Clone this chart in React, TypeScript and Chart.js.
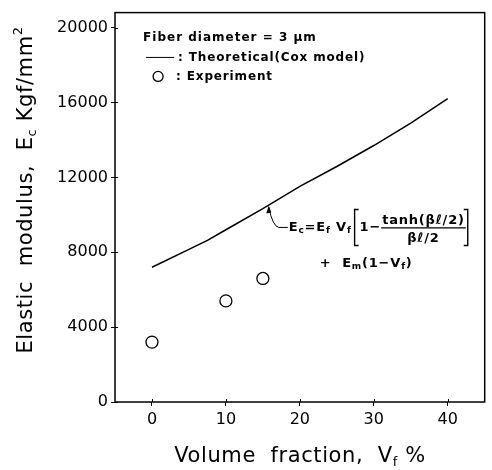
import React, { useEffect, useRef } from "react";
import { Chart, registerables } from "chart.js";

Chart.register(...registerables);

// Data
const theoryVf = [0, 5, 7.5, 10, 15, 20, 25, 30, 35, 40];
const theoryEc = [7200, 8150, 8630, 9200, 10330, 11520, 12580, 13700, 14900, 16200];
const expVf = [0, 10, 15];
const expEc = [3200, 5400, 6600];
const xTicks = [0, 10, 20, 30, 40];
const yTicks = [0, 4000, 8000, 12000, 16000, 20000];

const FONT = "'DejaVu Sans', sans-serif";

type Part = { t: string; size: number; weight?: string; dy?: number };

function richWidth(ctx: CanvasRenderingContext2D, parts: Part[]) {
  let w = 0;
  for (const p of parts) {
    ctx.font = `${p.weight || "normal"} ${p.size}px ${FONT}`;
    w += ctx.measureText(p.t).width;
  }
  return w;
}

function drawRich(ctx: CanvasRenderingContext2D, parts: Part[], x: number, y: number, align: "left" | "center" = "left") {
  let cx = align === "center" ? x - richWidth(ctx, parts) / 2 : x;
  ctx.textAlign = "left";
  ctx.textBaseline = "alphabetic";
  for (const p of parts) {
    ctx.font = `${p.weight || "normal"} ${p.size}px ${FONT}`;
    ctx.fillText(p.t, cx, y + (p.dy || 0));
    cx += ctx.measureText(p.t).width;
  }
  return cx;
}

const decorPlugin = {
  id: "decor",
  afterDraw(chart: any) {
    const ctx: CanvasRenderingContext2D = chart.ctx;
    const { left, right, top, bottom } = chart.chartArea;
    const xs = chart.scales.x;
    const ys = chart.scales.y;
    ctx.save();
    ctx.fillStyle = "#000";
    ctx.strokeStyle = "#000";

    // frame
    ctx.lineWidth = 1.5;
    ctx.strokeRect(left, top, right - left, bottom - top);

    // inner ticks
    ctx.lineWidth = 1;
    ctx.beginPath();
    for (const v of xTicks) {
      const px = Math.round(xs.getPixelForValue(v)) + 0.5;
      ctx.moveTo(px, bottom);
      ctx.lineTo(px, bottom - 3);
    }
    for (const v of yTicks) {
      const py = Math.round(ys.getPixelForValue(v)) + 0.5;
      ctx.moveTo(left, py);
      ctx.lineTo(left + 3, py);
    }
    ctx.stroke();

    // x axis title
    (ctx as any).letterSpacing = "0.6px";
    const xt: Part[] = [
      { t: "Volume  fraction,  V", size: 21 },
      { t: "f", size: 13, dy: 4 },
      { t: " %", size: 21 },
    ];
    drawRich(ctx, xt, 300, 462, "center");

    // y axis title (rotated)
    ctx.save();
    ctx.translate(32, 190);
    ctx.rotate(-Math.PI / 2);
    const yt: Part[] = [
      { t: "Elastic  modulus,  E", size: 21 },
      { t: "c", size: 13, dy: 4 },
      { t: " Kgf/mm", size: 21 },
      { t: "2", size: 13, dy: -10 },
    ];
    drawRich(ctx, yt, 0, 0, "center");
    ctx.restore();

    // legend block
    (ctx as any).letterSpacing = "0.85px";
    const lx = xs.getPixelForValue(-1.2);
    const ly = ys.getPixelForValue(19100) - 3;
    ctx.font = `bold 12px ${FONT}`;
    (ctx as any).letterSpacing = "1px";
    ctx.fillText("Fiber diameter = 3 \u03BCm", lx, ly);
    (ctx as any).letterSpacing = "0.85px";
    ctx.beginPath();
    ctx.lineWidth = 1;
    ctx.moveTo(lx + 3, ly + 16);
    ctx.lineTo(lx + 31, ly + 16);
    ctx.stroke();
    ctx.fillText(": Theoretical(Cox model)", lx + 35, ly + 20);
    ctx.beginPath();
    ctx.lineWidth = 1.3;
    ctx.arc(lx + 15, ly + 35, 5, 0, Math.PI * 2);
    ctx.stroke();
    ctx.fillText(": Experiment", lx + 33, ly + 39);

    // formula annotation with arrow
    (ctx as any).letterSpacing = "0.8px";
    const tipX = xs.getPixelForValue(15.8);
    const tipY = ys.getPixelForValue(10500);
    const ox = tipX + 20;
    const by = tipY + 26;
    ctx.lineWidth = 1;
    ctx.beginPath();
    ctx.moveTo(tipX, tipY + 2);
    ctx.quadraticCurveTo(tipX + 4, tipY + 21, tipX + 10, tipY + 22);
    ctx.lineTo(ox - 1, tipY + 22);
    ctx.stroke();
    ctx.beginPath();
    ctx.moveTo(tipX, tipY);
    ctx.lineTo(tipX - 2.5, tipY + 8);
    ctx.lineTo(tipX + 2.5, tipY + 7);
    ctx.closePath();
    ctx.fill();

    let cx = drawRich(ctx, [
      { t: "E", size: 13, weight: "bold" },
      { t: "c", size: 9, weight: "bold", dy: 2 },
      { t: "=E", size: 13, weight: "bold" },
      { t: "f", size: 9, weight: "bold", dy: 2 },
      { t: " V", size: 13, weight: "bold" },
      { t: "f", size: 9, weight: "bold", dy: 2 },
    ], ox, by);
    // left bracket
    cx += 3;
    ctx.lineWidth = 1.4;
    ctx.beginPath();
    ctx.moveTo(cx + 4, by - 22);
    ctx.lineTo(cx, by - 22);
    ctx.lineTo(cx, by + 14);
    ctx.lineTo(cx + 4, by + 14);
    ctx.stroke();
    cx += 5;
    cx = drawRich(ctx, [{ t: "1\u2212", size: 13, weight: "bold" }], cx, by);
    // fraction
    ctx.font = `bold 13px ${FONT}`;
    const num = "tanh(\u03B2\u2113/2)";
    const den = "\u03B2\u2113/2";
    const nw = ctx.measureText(num).width;
    const dw = ctx.measureText(den).width;
    const fx = cx + 1;
    ctx.fillText(num, fx, by - 7);
    ctx.fillText(den, fx + (nw - dw) / 2, by + 11);
    ctx.lineWidth = 1.2;
    ctx.beginPath();
    ctx.moveTo(fx - 1, by - 3.5);
    ctx.lineTo(fx + nw + 1, by - 3.5);
    ctx.stroke();
    // right bracket
    const rx = fx + nw + 3;
    ctx.lineWidth = 1.4;
    ctx.beginPath();
    ctx.moveTo(rx - 4, by - 22);
    ctx.lineTo(rx, by - 22);
    ctx.lineTo(rx, by + 14);
    ctx.lineTo(rx - 4, by + 14);
    ctx.stroke();

    drawRich(ctx, [
      { t: "+  E", size: 13, weight: "bold" },
      { t: "m", size: 9, weight: "bold", dy: 2 },
      { t: "(1\u2212V", size: 13, weight: "bold" },
      { t: "f", size: 9, weight: "bold", dy: 2 },
      { t: ")", size: 13, weight: "bold" },
    ], ox + 31, by + 36);

    (ctx as any).letterSpacing = "0px";
    ctx.restore();
  },
};

export default function App() {
  const ref = useRef<HTMLCanvasElement>(null);
  useEffect(() => {
    if (!ref.current) return;
    const chart = new Chart(ref.current, {
      type: "scatter",
      data: {
        datasets: [
          {
            label: "Theoretical(Cox model)",
            data: theoryVf.map((x, i) => ({ x, y: theoryEc[i] })),
            showLine: true,
            borderColor: "#000",
            borderWidth: 1.5,
            pointRadius: 0,
            tension: 0,
          },
          {
            label: "Experiment",
            data: expVf.map((x, i) => ({ x, y: expEc[i] })),
            showLine: false,
            pointStyle: "circle",
            pointRadius: 6,
            borderColor: "#000",
            borderWidth: 1.3,
            backgroundColor: "rgba(0,0,0,0)",
          },
        ],
      },
      options: {
        animation: false,
        responsive: false,
        layout: { padding: { top: 5, right: 1, left: 0, bottom: 0 } },
        plugins: { legend: { display: false }, tooltip: { enabled: false } },
        scales: {
          x: {
            type: "linear",
            min: -5,
            max: 45,
            afterBuildTicks: (s: any) => {
              s.ticks = xTicks.map((v) => ({ value: v }));
            },
            afterFit: (s: any) => {
              s.height = 68;
            },
            grid: { drawOnChartArea: false, tickLength: 4, color: "#000", lineWidth: 1 },
            border: { display: false },
            ticks: {
              color: "#000",
              font: { family: FONT, size: 16 },
              padding: 4,
              callback: (v: any) => String(v),
            },
          },
          y: {
            type: "linear",
            min: 0,
            max: 20800,
            afterBuildTicks: (s: any) => {
              s.ticks = yTicks.map((v) => ({ value: v }));
            },
            afterFit: (s: any) => {
              s.width = 115;
            },
            grid: { drawOnChartArea: false, tickLength: 4, color: "#000", lineWidth: 1 },
            border: { display: false },
            ticks: {
              color: "#000",
              font: { family: FONT, size: 16 },
              padding: 3,
              callback: (v: any) => String(v),
            },
          },
        },
      },
      plugins: [decorPlugin],
    });
    return () => chart.destroy();
  }, []);
  return (
    <div style={{ position: "fixed", left: 0, top: 0, width: 492, height: 470, background: "#fff" }}>
      <canvas ref={ref} width={492} height={470} style={{ width: 492, height: 470, display: "block" }} />
    </div>
  );
}
